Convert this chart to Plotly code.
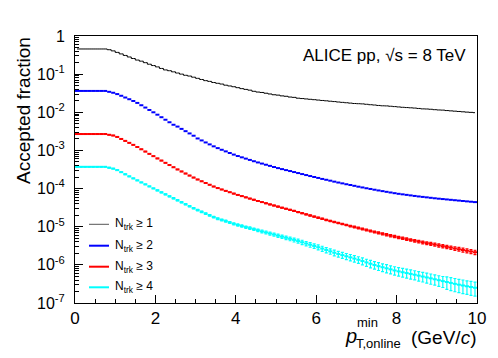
import plotly.graph_objects as go

# ---------------- data ----------------
pt_bin_width = 0.1
pt_centers = [round(0.05 + pt_bin_width * i, 2) for i in range(100)]  # bin centres, GeV/c

frac_ntrk1 = [
    4.57e-1, 4.57e-1, 4.57e-1, 4.57e-1, 4.57e-1, 4.57e-1, 4.57e-1, 4.57e-1, 4.37e-1, 4.07e-1,
    3.72e-1, 3.39e-1, 3.09e-1, 2.82e-1, 2.57e-1, 2.34e-1, 2.19e-1, 2.00e-1, 1.82e-1, 1.68e-1,
    1.55e-1, 1.41e-1, 1.29e-1, 1.23e-1, 1.15e-1, 1.07e-1, 1.00e-1, 9.33e-2, 8.91e-2, 8.32e-2,
    7.76e-2, 7.24e-2, 6.76e-2, 6.46e-2, 6.03e-2, 5.75e-2, 5.50e-2, 5.13e-2, 4.90e-2, 4.68e-2,
    4.42e-2, 4.17e-2, 3.98e-2, 3.80e-2, 3.55e-2, 3.39e-2, 3.31e-2, 3.16e-2, 3.02e-2, 2.88e-2,
    2.82e-2, 2.69e-2, 2.63e-2, 2.51e-2, 2.46e-2, 2.34e-2, 2.29e-2, 2.24e-2, 2.19e-2, 2.14e-2,
    2.09e-2, 2.04e-2, 2.00e-2, 1.95e-2, 1.91e-2, 1.86e-2, 1.82e-2, 1.78e-2, 1.74e-2, 1.70e-2,
    1.68e-2, 1.66e-2, 1.62e-2, 1.58e-2, 1.55e-2, 1.51e-2, 1.48e-2, 1.47e-2, 1.44e-2, 1.41e-2,
    1.38e-2, 1.35e-2, 1.33e-2, 1.31e-2, 1.29e-2, 1.26e-2, 1.23e-2, 1.22e-2, 1.20e-2, 1.17e-2,
    1.15e-2, 1.14e-2, 1.11e-2, 1.09e-2, 1.07e-2, 1.05e-2, 1.03e-2, 1.01e-2, 9.95e-3, 9.77e-3,
]

frac_ntrk2 = [
    3.63e-2, 3.63e-2, 3.63e-2, 3.63e-2, 3.63e-2, 3.63e-2, 3.63e-2, 3.63e-2, 3.44e-2, 3.25e-2,
    3.00e-2, 2.71e-2, 2.44e-2, 2.20e-2, 1.98e-2, 1.76e-2, 1.53e-2, 1.33e-2, 1.15e-2, 1.00e-2,
    8.65e-3, 7.43e-3, 6.38e-3, 5.48e-3, 4.71e-3, 4.22e-3, 3.67e-3, 3.20e-3, 2.79e-3, 2.43e-3,
    2.06e-3, 1.83e-3, 1.62e-3, 1.44e-3, 1.28e-3, 1.15e-3, 1.04e-3, 9.44e-4, 8.57e-4, 7.78e-4,
    7.13e-4, 6.59e-4, 6.10e-4, 5.64e-4, 5.21e-4, 4.84e-4, 4.52e-4, 4.22e-4, 3.94e-4, 3.67e-4,
    3.44e-4, 3.24e-4, 3.05e-4, 2.88e-4, 2.71e-4, 2.55e-4, 2.40e-4, 2.26e-4, 2.13e-4, 2.01e-4,
    1.90e-4, 1.79e-4, 1.70e-4, 1.61e-4, 1.52e-4, 1.44e-4, 1.37e-4, 1.30e-4, 1.24e-4, 1.18e-4,
    1.12e-4, 1.07e-4, 1.02e-4, 9.77e-5, 9.33e-5, 8.93e-5, 8.57e-5, 8.22e-5, 7.89e-5, 7.57e-5,
    7.29e-5, 7.06e-5, 6.84e-5, 6.62e-5, 6.41e-5, 6.22e-5, 6.05e-5, 5.89e-5, 5.73e-5, 5.57e-5,
    5.43e-5, 5.31e-5, 5.19e-5, 5.07e-5, 4.95e-5, 4.84e-5, 4.73e-5, 4.62e-5, 4.52e-5, 4.42e-5,
]

frac_ntrk3 = [
    2.69e-3, 2.69e-3, 2.69e-3, 2.69e-3, 2.69e-3, 2.69e-3, 2.69e-3, 2.69e-3, 2.57e-3, 2.46e-3,
    2.26e-3, 2.00e-3, 1.78e-3, 1.58e-3, 1.40e-3, 1.23e-3, 1.07e-3, 9.33e-4, 8.13e-4, 7.08e-4,
    6.18e-4, 5.41e-4, 4.73e-4, 4.14e-4, 3.62e-4, 3.18e-4, 2.81e-4, 2.48e-4, 2.19e-4, 1.94e-4,
    1.73e-4, 1.55e-4, 1.40e-4, 1.26e-4, 1.13e-4, 1.03e-4, 9.46e-5, 8.71e-5, 8.02e-5, 7.38e-5,
    6.82e-5, 6.34e-5, 5.89e-5, 5.47e-5, 5.08e-5, 4.73e-5, 4.42e-5, 4.12e-5, 3.85e-5, 3.59e-5,
    3.36e-5, 3.15e-5, 2.95e-5, 2.77e-5, 2.59e-5, 2.43e-5, 2.26e-5, 2.11e-5, 1.97e-5, 1.84e-5,
    1.72e-5, 1.61e-5, 1.51e-5, 1.42e-5, 1.33e-5, 1.25e-5, 1.18e-5, 1.11e-5, 1.04e-5, 9.84e-6,
    9.27e-6, 8.73e-6, 8.22e-6, 7.74e-6, 7.29e-6, 6.89e-6, 6.52e-6, 6.17e-6, 5.83e-6, 5.52e-6,
    5.24e-6, 4.98e-6, 4.73e-6, 4.50e-6, 4.28e-6, 4.07e-6, 3.89e-6, 3.72e-6, 3.55e-6, 3.39e-6,
    3.24e-6, 3.09e-6, 2.95e-6, 2.82e-6, 2.69e-6, 2.57e-6, 2.45e-6, 2.34e-6, 2.24e-6, 2.14e-6,
]

frac_ntrk4 = [
    3.72e-4, 3.72e-4, 3.72e-4, 3.72e-4, 3.72e-4, 3.72e-4, 3.72e-4, 3.72e-4, 3.52e-4, 3.33e-4,
    3.04e-4, 2.69e-4, 2.37e-4, 2.09e-4, 1.85e-4, 1.64e-4, 1.45e-4, 1.29e-4, 1.14e-4, 1.01e-4,
    8.99e-5, 7.98e-5, 7.08e-5, 6.28e-5, 5.57e-5, 4.94e-5, 4.39e-5, 3.89e-5, 3.45e-5, 3.06e-5,
    2.74e-5, 2.46e-5, 2.21e-5, 1.99e-5, 1.79e-5, 1.63e-5, 1.51e-5, 1.40e-5, 1.29e-5, 1.19e-5,
    1.11e-5, 1.04e-5, 9.77e-6, 9.16e-6, 8.59e-6, 8.05e-6, 7.55e-6, 7.08e-6, 6.64e-6, 6.22e-6,
    5.83e-6, 5.47e-6, 5.13e-6, 4.81e-6, 4.51e-6, 4.21e-6, 3.91e-6, 3.63e-6, 3.37e-6, 3.13e-6,
    2.90e-6, 2.67e-6, 2.45e-6, 2.26e-6, 2.08e-6, 1.93e-6, 1.80e-6, 1.68e-6, 1.57e-6, 1.46e-6,
    1.36e-6, 1.26e-6, 1.16e-6, 1.07e-6, 9.93e-7, 9.25e-7, 8.67e-7, 8.13e-7, 7.62e-7, 7.14e-7,
    6.75e-7, 6.41e-7, 6.10e-7, 5.79e-7, 5.51e-7, 5.22e-7, 4.94e-7, 4.68e-7, 4.43e-7, 4.19e-7,
    3.96e-7, 3.75e-7, 3.55e-7, 3.36e-7, 3.18e-7, 3.02e-7, 2.88e-7, 2.75e-7, 2.63e-7, 2.51e-7,
]

# relative statistical uncertainties per bin
relerr_ntrk2 = [
    0.005, 0.005, 0.005, 0.005, 0.005, 0.005, 0.005, 0.005, 0.005, 0.005,
    0.005, 0.005, 0.005, 0.005, 0.005, 0.005, 0.005, 0.005, 0.005, 0.005,
    0.005, 0.005, 0.005, 0.005, 0.005, 0.005, 0.005, 0.005, 0.005, 0.005,
    0.005, 0.005, 0.005, 0.005, 0.005, 0.005, 0.005, 0.005, 0.005, 0.005,
    0.006, 0.006, 0.006, 0.006, 0.006, 0.006, 0.007, 0.007, 0.007, 0.007,
    0.008, 0.008, 0.008, 0.008, 0.009, 0.009, 0.009, 0.010, 0.010, 0.010,
    0.010, 0.011, 0.011, 0.011, 0.012, 0.012, 0.012, 0.013, 0.013, 0.013,
    0.014, 0.014, 0.014, 0.015, 0.015, 0.015, 0.016, 0.016, 0.016, 0.017,
    0.017, 0.017, 0.018, 0.018, 0.018, 0.019, 0.019, 0.019, 0.020, 0.020,
    0.020, 0.021, 0.021, 0.021, 0.022, 0.022, 0.022, 0.023, 0.023, 0.023,
]

relerr_ntrk3 = [
    0.010, 0.010, 0.010, 0.010, 0.010, 0.010, 0.010, 0.010, 0.010, 0.010,
    0.010, 0.010, 0.010, 0.010, 0.010, 0.010, 0.010, 0.010, 0.010, 0.010,
    0.010, 0.010, 0.010, 0.010, 0.010, 0.010, 0.010, 0.010, 0.010, 0.010,
    0.011, 0.011, 0.012, 0.012, 0.013, 0.013, 0.014, 0.014, 0.015, 0.015,
    0.016, 0.017, 0.018, 0.019, 0.020, 0.021, 0.022, 0.023, 0.024, 0.025,
    0.026, 0.027, 0.028, 0.029, 0.030, 0.031, 0.032, 0.033, 0.034, 0.035,
    0.036, 0.037, 0.038, 0.040, 0.041, 0.042, 0.044, 0.045, 0.047, 0.048,
    0.050, 0.052, 0.054, 0.056, 0.058, 0.060, 0.062, 0.064, 0.066, 0.068,
    0.070, 0.072, 0.074, 0.076, 0.078, 0.080, 0.083, 0.086, 0.089, 0.092,
    0.095, 0.098, 0.101, 0.104, 0.108, 0.112, 0.116, 0.120, 0.125, 0.130,
]

relerr_ntrk4 = [
    0.020, 0.020, 0.020, 0.020, 0.020, 0.020, 0.020, 0.020, 0.020, 0.020,
    0.020, 0.020, 0.020, 0.020, 0.020, 0.020, 0.020, 0.020, 0.020, 0.020,
    0.030, 0.030, 0.030, 0.030, 0.035, 0.035, 0.035, 0.040, 0.040, 0.040,
    0.045, 0.045, 0.050, 0.050, 0.050, 0.055, 0.055, 0.060, 0.060, 0.065,
    0.065, 0.070, 0.070, 0.075, 0.075, 0.080, 0.085, 0.090, 0.090, 0.095,
    0.100, 0.100, 0.110, 0.110, 0.120, 0.120, 0.130, 0.130, 0.140, 0.140,
    0.150, 0.150, 0.160, 0.160, 0.170, 0.170, 0.180, 0.180, 0.190, 0.190,
    0.200, 0.210, 0.210, 0.220, 0.220, 0.230, 0.230, 0.240, 0.240, 0.250,
    0.250, 0.260, 0.260, 0.270, 0.270, 0.280, 0.280, 0.290, 0.300, 0.300,
    0.310, 0.320, 0.360, 0.370, 0.380, 0.380, 0.390, 0.390, 0.400, 0.400,
]

series_labels = ["N<sub>trk</sub> \u2265 1", "N<sub>trk</sub> \u2265 2",
                 "N<sub>trk</sub> \u2265 3", "N<sub>trk</sub> \u2265 4"]
series_colors = ["#000000", "#0000ff", "#ff0000", "#00ffff"]

y_tick_vals = [1e-7, 1e-6, 1e-5, 1e-4, 1e-3, 1e-2, 1e-1, 1]
y_tick_text = ["10<sup>-7</sup>", "10<sup>-6</sup>", "10<sup>-5</sup>", "10<sup>-4</sup>",
               "10<sup>-3</sup>", "10<sup>-2</sup>", "10<sup>-1</sup>", "1"]

# ---------------- figure ----------------
OFF = 8                       # default page (body) margin of the html page
VW, VH = 498, 358             # window size
W, H = VW - 2 * OFF, VH - 2 * OFF
L, R, T, B = 75, 477, 36, 303   # plot-area pixel box in window coordinates
FONT = "Liberation Sans, Arial, Helvetica, sans-serif"


def px(xp):
    return (xp - L) / (R - L)


def py(yp):
    return (B - yp) / (B - T)


fig = go.Figure()

# Ntrk >= 1 : thin histogram line
fig.add_trace(go.Scatter(
    x=pt_centers, y=frac_ntrk1, mode="lines", line=dict(color=series_colors[0], width=1, shape="hvh"),
    showlegend=False, hoverinfo="skip"))

# others : horizontal bin segments + vertical error bars
for vals, rel, col, cap in [(frac_ntrk2, relerr_ntrk2, series_colors[1], 0),
                            (frac_ntrk3, relerr_ntrk3, series_colors[2], 1.5),
                            (frac_ntrk4, relerr_ntrk4, series_colors[3], 1.5)]:
    fig.add_trace(go.Scatter(
        x=pt_centers, y=vals, mode="markers", marker=dict(size=0, color=col, opacity=0),
        error_x=dict(type="constant", value=pt_bin_width / 2, width=0, thickness=2, color=col),
        error_y=dict(type="data", array=[v * e for v, e in zip(vals, rel)], width=cap,
                     thickness=1.2, color=col),
        showlegend=False, hoverinfo="skip"))

annotations = []
shapes = []

# manual legend
leg_y = [224.3, 245.7, 266.7, 287.3]
for lab, col, yy in zip(series_labels, series_colors, leg_y):
    shapes.append(dict(type="line", xref="paper", yref="paper",
                       x0=px(89), x1=px(109), y0=py(yy), y1=py(yy),
                       line=dict(color=col if col != "#000000" else "#555555",
                                 width=1 if col == "#000000" else 2)))
    annotations.append(dict(xref="paper", yref="paper", x=px(113), y=py(yy), text=lab,
                            showarrow=False, xanchor="left", yanchor="middle",
                            font=dict(size=12, color="black", family=FONT)))

# ALICE label
annotations.append(dict(xref="paper", yref="paper", x=px(468), y=py(56),
                        text="ALICE pp, \u221As = 8 TeV", showarrow=False,
                        xanchor="right", yanchor="middle",
                        font=dict(size=17, color="black", family=FONT)))

# y-axis title
annotations.append(dict(xref="paper", yref="paper", x=px(23), y=py(111),
                        text="Accepted fraction", textangle=-90, showarrow=False,
                        xanchor="center", yanchor="middle",
                        font=dict(size=19, color="black", family=FONT)))

# x-axis title (p, stacked sup/sub, units)
annotations.append(dict(xref="paper", yref="paper", x=px(343), y=py(336),
                        text="<i>p</i>", showarrow=False, xanchor="left", yanchor="middle",
                        font=dict(size=20, color="black", family=FONT)))
annotations.append(dict(xref="paper", yref="paper", x=px(355), y=py(322),
                        text="min", showarrow=False, xanchor="left", yanchor="middle",
                        font=dict(size=13, color="black", family=FONT)))
annotations.append(dict(xref="paper", yref="paper", x=px(354), y=py(343),
                        text="T,online", showarrow=False, xanchor="left", yanchor="middle",
                        font=dict(size=13, color="black", family=FONT)))
annotations.append(dict(xref="paper", yref="paper", x=px(478), y=py(337),
                        text="(GeV/<i>c</i>)", showarrow=False, xanchor="right", yanchor="middle",
                        font=dict(size=19, color="black", family=FONT)))

fig.update_layout(
    width=W, height=H,
    margin=dict(l=L - OFF, r=(OFF + W) - R, t=T - OFF, b=(OFF + H) - B, pad=0, autoexpand=False),
    paper_bgcolor="white", plot_bgcolor="white",
    font=dict(family=FONT, size=16, color="black"),
    annotations=annotations, shapes=shapes, showlegend=False,
)

fig.update_xaxes(
    range=[0, 10], dtick=2, tick0=0, showgrid=False, zeroline=False,
    showline=True, linecolor="black", linewidth=1, mirror=True,
    ticks="inside", ticklen=8, tickwidth=1, tickcolor="black",
    minor=dict(dtick=0.5, ticks="inside", ticklen=4, tickcolor="black", showgrid=False),
    tickfont=dict(size=17, family=FONT, color="black"),
)
fig.update_yaxes(
    type="log", range=[-7, 0], showgrid=False, zeroline=False,
    tickmode="array", tickvals=y_tick_vals, ticktext=y_tick_text,
    showline=True, linecolor="black", linewidth=1, mirror=True,
    ticks="inside", ticklen=8, tickwidth=1, tickcolor="black",
    minor=dict(dtick="D1", ticks="inside", ticklen=4, tickcolor="black", showgrid=False),
    ticklabelstandoff=6,
    tickfont=dict(size=16, family=FONT, color="black"),
)

fig.write_html("out.html")
